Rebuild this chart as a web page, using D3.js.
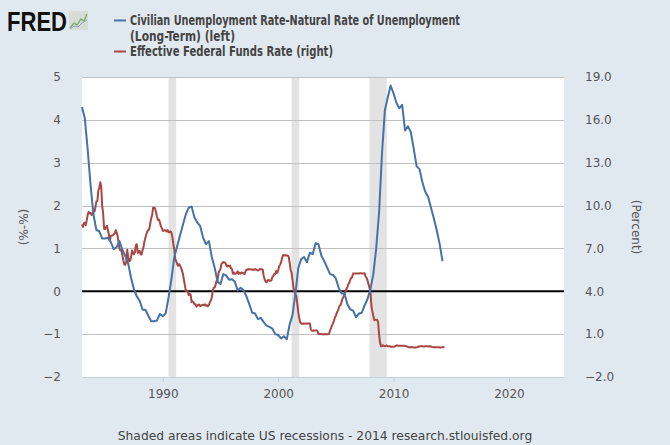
<!DOCTYPE html>
<html>
<head>
<meta charset="utf-8">
<script src="https://cdn.jsdelivr.net/npm/d3@7"></script>
<style>
  body { margin: 0; background: #e1e9f0; }
  svg { display: block; }
</style>
</head>
<body>
<svg id="svg"></svg>
<script>
// Unemployment gap, quarterly, starting 1983 Q1 (left axis)
const gapStart = new Date(1983, 0, 1);
const unempGap = [
  4.30, 4.03, 3.30, 2.46,
  1.78, 1.43, 1.40, 1.23,
  1.23, 1.25, 1.15, 0.98,
  1.03, 1.17, 0.97, 0.83,
  0.65, 0.32, 0.05, -0.12,
  -0.22, -0.43, -0.43, -0.57,
  -0.70, -0.70, -0.68, -0.53,
  -0.58, -0.52, -0.15, 0.28,
  0.80, 1.05, 1.30, 1.55,
  1.80, 1.95, 1.98, 1.72,
  1.60, 1.52, 1.25, 1.10,
  1.17, 0.80, 0.55, 0.23,
  0.17, 0.40, 0.37, 0.27,
  0.28, 0.22, 0.02, 0.08,
  0.03, -0.12, -0.30, -0.50,
  -0.52, -0.65, -0.62, -0.72,
  -0.80, -0.83, -0.87, -1.00,
  -1.02, -1.10, -1.05, -1.12,
  -0.77, -0.55, -0.05, 0.55,
  0.75, 0.80, 0.68, 0.90,
  0.87, 1.12, 1.10, 0.83,
  0.70, 0.55, 0.40, 0.38,
  0.30, 0.08, -0.05, -0.05,
  -0.30, -0.42, -0.45, -0.60,
  -0.52, -0.50, -0.33, -0.18,
  0.05, 0.40, 1.00, 1.85,
  3.22, 4.22, 4.52, 4.80,
  4.62, 4.40, 4.27, 4.35,
  3.75, 3.85, 3.72, 3.33,
  2.92, 2.85, 2.55, 2.32,
  2.20, 1.95, 1.70, 1.42,
  1.10, 0.70
];

// Effective federal funds rate, monthly, starting January 1983 (right axis)
const fundsStart = new Date(1983, 0, 1);
const fedFunds = [
  8.68, 8.51, 8.77, 8.80, 8.63, 8.98, 9.37, 9.56, 9.45, 9.48, 9.34, 9.47,
  9.56, 9.59, 9.91, 10.29, 10.32, 11.06, 11.23, 11.64, 11.30, 9.99, 9.43, 8.38,
  8.35, 8.50, 8.58, 8.27, 7.97, 7.53, 7.88, 7.90, 7.92, 7.99, 8.05, 8.27,
  8.14, 7.86, 7.48, 6.99, 6.85, 6.92, 6.56, 6.17, 5.89, 5.85, 6.04, 6.91,
  6.43, 6.10, 6.13, 6.37, 6.85, 6.73, 6.58, 6.73, 7.22, 7.29, 6.69, 6.77,
  6.83, 6.58, 6.58, 6.87, 7.09, 7.51, 7.75, 8.01, 8.19, 8.30, 8.35, 8.76,
  9.12, 9.36, 9.85, 9.84, 9.81, 9.53, 9.24, 8.99, 9.02, 8.84, 8.55, 8.45,
  8.23, 8.24, 8.28, 8.26, 8.18, 8.29, 8.15, 8.13, 8.20, 8.11, 7.81, 7.31,
  6.91, 6.25, 6.12, 5.91, 5.78, 5.90, 5.82, 5.66, 5.45, 5.21, 4.81, 4.43,
  4.03, 4.06, 3.98, 3.73, 3.82, 3.76, 3.25, 3.30, 3.22, 3.10, 3.09, 2.92,
  3.02, 3.03, 3.07, 2.96, 3.00, 3.04, 3.06, 3.03, 3.09, 2.99, 3.02, 2.96,
  3.05, 3.25, 3.34, 3.56, 4.01, 4.25, 4.26, 4.47, 4.73, 4.76, 5.29, 5.45,
  5.53, 5.92, 5.98, 6.05, 6.01, 6.00, 5.85, 5.74, 5.80, 5.76, 5.80, 5.60,
  5.56, 5.22, 5.31, 5.22, 5.24, 5.27, 5.40, 5.22, 5.30, 5.24, 5.31, 5.29,
  5.25, 5.19, 5.39, 5.51, 5.50, 5.56, 5.52, 5.54, 5.54, 5.50, 5.52, 5.50,
  5.56, 5.51, 5.49, 5.45, 5.49, 5.56, 5.54, 5.55, 5.51, 5.07, 4.83, 4.68,
  4.63, 4.76, 4.81, 4.74, 4.74, 4.76, 4.99, 5.07, 5.22, 5.20, 5.42, 5.30,
  5.45, 5.73, 5.85, 6.02, 6.27, 6.53, 6.54, 6.50, 6.52, 6.51, 6.51, 6.40,
  5.98, 5.49, 5.31, 4.80, 4.21, 3.97, 3.77, 3.65, 3.07, 2.49, 2.09, 1.82,
  1.73, 1.74, 1.73, 1.75, 1.75, 1.75, 1.73, 1.74, 1.75, 1.75, 1.34, 1.24,
  1.24, 1.26, 1.25, 1.26, 1.26, 1.22, 1.01, 1.03, 1.01, 1.01, 1.00, 0.98,
  1.00, 1.01, 1.00, 1.00, 1.00, 1.03, 1.26, 1.43, 1.61, 1.76, 1.93, 2.16,
  2.28, 2.50, 2.63, 2.79, 3.00, 3.04, 3.26, 3.50, 3.62, 3.78, 4.00, 4.16,
  4.29, 4.49, 4.59, 4.79, 4.94, 4.99, 5.24, 5.25, 5.25, 5.25, 5.25, 5.24,
  5.25, 5.26, 5.26, 5.25, 5.25, 5.25, 5.26, 5.02, 4.94, 4.76, 4.49, 4.24,
  3.94, 2.98, 2.61, 2.28, 1.98, 2.00, 2.01, 2.00, 1.81, 0.97, 0.39, 0.16,
  0.15, 0.22, 0.18, 0.15, 0.18, 0.21, 0.16, 0.16, 0.15, 0.12, 0.12, 0.12,
  0.11, 0.13, 0.16, 0.20, 0.20, 0.18, 0.18, 0.19, 0.19, 0.19, 0.19, 0.18,
  0.17, 0.16, 0.14, 0.10, 0.09, 0.09, 0.07, 0.10, 0.08, 0.07, 0.08, 0.07,
  0.08, 0.10, 0.13, 0.14, 0.16, 0.16, 0.16, 0.13, 0.14, 0.16, 0.16, 0.16,
  0.14, 0.15, 0.14, 0.15, 0.11, 0.09, 0.09, 0.08, 0.08, 0.09, 0.08, 0.09,
  0.07, 0.07, 0.08, 0.09, 0.09, 0.10
];

// US recessions (start, end)
const recessions = [
  ['1990-07-01', '1991-03-01'],
  ['2001-03-01', '2001-11-01'],
  ['2007-12-01', '2009-06-01']
];

const leftTicks = [-2, -1, 0, 1, 2, 3, 4, 5];
const rightTicks = [-2, 1, 4, 7, 10, 13, 16, 19];
const yearTicks = [1990, 2000, 2010, 2020];

const legendItems = [
  { lines: ['Civilian Unemployment Rate-Natural Rate of Unemployment', '(Long-Term) (left)'], color: '#4572a7' },
  { lines: ['Effective Federal Funds Rate (right)'], color: '#aa4643' }
];

const width = 670;
const height = 445;
const plot = { left: 82, right: 564, top: 77, bottom: 377 };
const labelFont = '"DejaVu Sans", Verdana, sans-serif';

const svg = d3.select('#svg')
  .attr('width', width)
  .attr('height', height);

svg.append('rect')
  .attr('width', width)
  .attr('height', height)
  .attr('fill', '#e1e9f0');

const x = d3.scaleTime()
  .domain([new Date(1983, 0, 1), new Date(2024, 9, 10)])
  .range([plot.left, plot.right]);

const yLeft = d3.scaleLinear()
  .domain([-2, 5])
  .range([plot.bottom, plot.top]);

const yRight = d3.scaleLinear()
  .domain([-2, 19])
  .range([plot.bottom, plot.top]);

// plot background
svg.append('rect')
  .attr('x', plot.left)
  .attr('y', plot.top)
  .attr('width', plot.right - plot.left)
  .attr('height', plot.bottom - plot.top)
  .attr('fill', '#ffffff');

// recession shading
svg.append('g')
  .selectAll('rect')
  .data(recessions)
  .join('rect')
  .attr('x', d => x(new Date(d[0])))
  .attr('y', plot.top)
  .attr('width', d => x(new Date(d[1])) - x(new Date(d[0])))
  .attr('height', plot.bottom - plot.top)
  .attr('fill', '#e3e3e3');

// grid lines
svg.append('g')
  .selectAll('line')
  .data(leftTicks.filter(d => d !== -2 && d !== 0))
  .join('line')
  .attr('x1', plot.left)
  .attr('x2', plot.right)
  .attr('y1', d => Math.round(yLeft(d)) + 0.5)
  .attr('y2', d => Math.round(yLeft(d)) + 0.5)
  .attr('stroke', '#c0c0c0')
  .attr('stroke-width', 1);

// left axis labels
const leftAxis = svg.append('g')
  .attr('transform', `translate(${plot.left},0)`)
  .call(d3.axisLeft(yLeft).tickValues(leftTicks).tickSize(0).tickPadding(21)
    .tickFormat(d3.format('d')));

// right axis labels
const rightAxis = svg.append('g')
  .attr('transform', `translate(${plot.right},0)`)
  .call(d3.axisRight(yRight).tickValues(rightTicks).tickSize(0).tickPadding(21)
    .tickFormat(d3.format('.1f')));

// bottom axis
const bottomAxis = svg.append('g')
  .attr('transform', `translate(0,${plot.bottom})`)
  .call(d3.axisBottom(x)
    .tickValues(yearTicks.map(y => new Date(y, 0, 1)))
    .tickFormat(d3.timeFormat('%Y'))
    .tickSize(5)
    .tickSizeOuter(0)
    .tickPadding(7));

[leftAxis, rightAxis].forEach(a => a.select('.domain').remove());
bottomAxis.select('.domain').attr('stroke', '#c0d0e0');
bottomAxis.selectAll('.tick line').attr('stroke', '#c0d0e0');

[leftAxis, rightAxis, bottomAxis].forEach(a => {
  a.selectAll('text')
    .attr('fill', '#555')
    .style('font-family', labelFont)
    .style('font-size', '12px');
});

// zero line
svg.append('line')
  .attr('x1', plot.left)
  .attr('x2', plot.right)
  .attr('y1', yLeft(0))
  .attr('y2', yLeft(0))
  .attr('stroke', '#000')
  .attr('stroke-width', 2);

// series
const gapData = unempGap.map((v, i) => ({ date: d3.timeMonth.offset(gapStart, i * 3), value: v }));
const fundsData = fedFunds.map((v, i) => ({ date: d3.timeMonth.offset(fundsStart, i), value: v }));

svg.append('path')
  .datum(fundsData)
  .attr('fill', 'none')
  .attr('stroke', '#aa4643')
  .attr('stroke-width', 2)
  .attr('stroke-linejoin', 'round')
  .attr('d', d3.line().x(d => x(d.date)).y(d => yRight(d.value)));

svg.append('path')
  .datum(gapData)
  .attr('fill', 'none')
  .attr('stroke', '#4572a7')
  .attr('stroke-width', 2)
  .attr('stroke-linejoin', 'round')
  .attr('d', d3.line().x(d => x(d.date)).y(d => yLeft(d.value)));

// axis titles
svg.append('text')
  .attr('transform', `translate(28,${(plot.top + plot.bottom) / 2}) rotate(-90)`)
  .attr('text-anchor', 'middle')
  .attr('fill', '#555')
  .style('font-family', labelFont)
  .style('font-size', '12px')
  .text('(%-%)');

svg.append('text')
  .attr('transform', `translate(632,${(plot.top + plot.bottom) / 2}) rotate(90)`)
  .attr('text-anchor', 'middle')
  .attr('fill', '#555')
  .style('font-family', labelFont)
  .style('font-size', '12px')
  .text('(Percent)');

// footer
svg.append('text')
  .attr('x', 325)
  .attr('y', 440)
  .attr('text-anchor', 'middle')
  .attr('fill', '#444')
  .style('font-family', labelFont)
  .style('font-size', '12.3px')
  .text('Shaded areas indicate US recessions - 2014 research.stlouisfed.org');

// FRED logo
svg.append('text')
  .attr('x', 7)
  .attr('y', 31)
  .attr('textLength', 60)
  .attr('lengthAdjust', 'spacingAndGlyphs')
  .attr('fill', '#111')
  .style('font-family', '"Liberation Sans", Arial, sans-serif')
  .style('font-weight', 'bold')
  .style('font-size', '28px')
  .text('FRED');

const logo = svg.append('g').attr('transform', 'translate(69,11)');
logo.append('rect').attr('width', 19).attr('height', 19).attr('fill', '#d6ddd6');
logo.append('polyline')
  .attr('points', '1,17 5,12 8,14 12,8 15,10 18,3')
  .attr('fill', 'none').attr('stroke', '#7aa86a').attr('stroke-width', 1.3);
logo.append('polyline')
  .attr('points', '1,18 5,15 9,16 13,12 18,9')
  .attr('fill', 'none').attr('stroke', '#8aa0c0').attr('stroke-width', 1);

// legend
const legendWidths = [[330, 105], [203]];
let ly = 25;
legendItems.forEach((item, i) => {
  svg.append('line')
    .attr('x1', 114).attr('x2', 126)
    .attr('y1', ly - 4.5).attr('y2', ly - 4.5)
    .attr('stroke', item.color)
    .attr('stroke-width', 2);
  item.lines.forEach((t, j) => {
    svg.append('text')
      .attr('x', 130)
      .attr('y', ly)
      .attr('textLength', legendWidths[i][j])
      .attr('lengthAdjust', 'spacingAndGlyphs')
      .attr('fill', '#444')
      .style('font-family', '"DejaVu Sans Condensed", "Liberation Sans Narrow", "Liberation Sans", sans-serif')
      .style('font-weight', 'bold')
      .style('font-size', '14px')
      .text(t);
    ly += 15.5;
  });
});
</script>
</body>
</html>
